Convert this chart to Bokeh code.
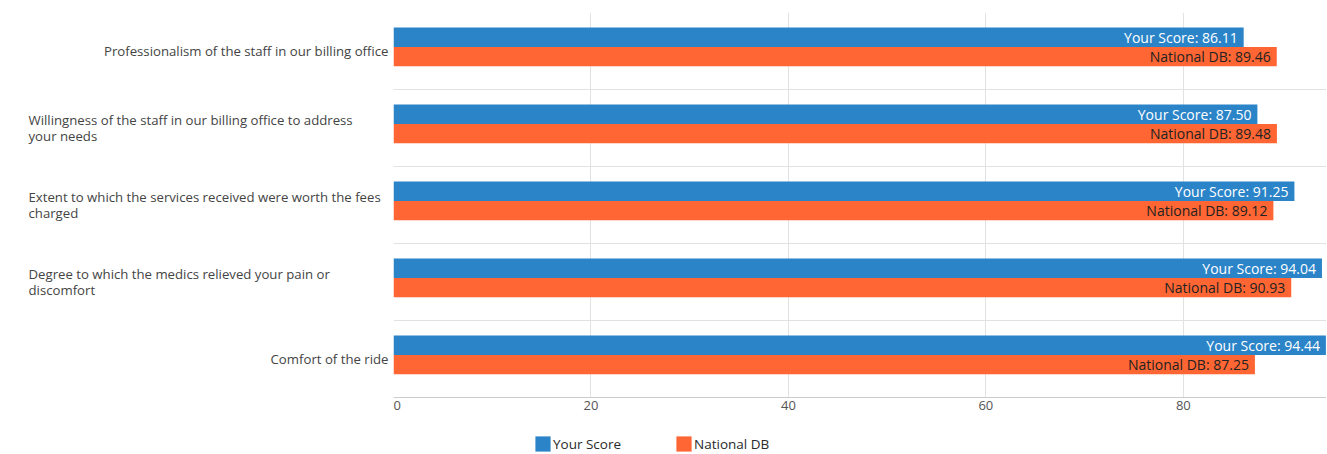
from bokeh.plotting import figure
from bokeh.models import (FactorRange, Range1d, ColumnDataSource, FixedTicker,
                          Grid, Legend, LegendItem)
from bokeh.layouts import row, column
from bokeh.transform import dodge
from bokeh.core.properties import value
from bokeh.embed import file_html
from bokeh.resources import INLINE

# ---------------- data ----------------
categories = [
    "Professionalism of the staff in our billing office",
    "Willingness of the staff in our billing office to address your needs",
    "Extent to which the services received were worth the fees charged",
    "Degree to which the medics relieved your pain or discomfort",
    "Comfort of the ride",
]
category_labels = [
    "Professionalism of the staff in our billing office",
    "Willingness of the staff in our billing office to address\nyour needs",
    "Extent to which the services received were worth the fees\ncharged",
    "Degree to which the medics relieved your pain or\ndiscomfort",
    "Comfort of the ride",
]
your_score = [86.11, 87.50, 91.25, 94.04, 94.44]
national_db = [89.46, 89.48, 89.12, 90.93, 87.25]
series_names = ["Your Score", "National DB"]
x_ticks = [0, 20, 40, 60, 80]

# ---------------- style ----------------
FONT = "Open Sans"
BLUE = "#2b84c8"
ORANGE = "#ff6633"
GRID = "#e2e2e2"
AXIS = "#cccccc"
FH = 385
LEFT_W = 393
MAIN_W = 933
BOTTOM = 26
LEG_H = 30

yr = FactorRange(factors=categories[::-1], range_padding=0, factor_padding=0)

src = ColumnDataSource(dict(
    cat=categories,
    you=your_score,
    nat=national_db,
    you_txt=[f"{series_names[0]}: {v:.2f}" for v in your_score],
    nat_txt=[f"{series_names[1]}: {v:.2f}" for v in national_db],
))

# ---------------- main plot ----------------
p = figure(y_range=yr, x_range=Range1d(0, 94.5),
           frame_width=MAIN_W, frame_height=FH,
           y_axis_location=None, output_backend="svg", toolbar_location=None,
           min_border_top=12, min_border_bottom=BOTTOM, min_border_left=0,
           min_border_right=0, outline_line_color=None)

y_you = dodge("cat", 0.18, range=yr)
y_nat = dodge("cat", -0.073, range=yr)
BH = 0.253

r1 = p.hbar(y=y_you, left=0, right="you", height=BH, source=src,
            fill_color=BLUE, line_color=None)
r2 = p.hbar(y=y_nat, left=0, right="nat", height=BH, source=src,
            fill_color=ORANGE, line_color=None)

p.text(x="you", y=y_you, text="you_txt", source=src, x_offset=-6,
       text_align="right", text_baseline="middle", text_color="white",
       text_font=value(FONT), text_font_size="14px")
p.text(x="nat", y=y_nat, text="nat_txt", source=src, x_offset=-6,
       text_align="right", text_baseline="middle", text_color="#222222",
       text_font=value(FONT), text_font_size="14px")

p.xaxis.ticker = FixedTicker(ticks=x_ticks)
p.xaxis.axis_line_color = AXIS
p.xaxis.major_tick_line_color = None
p.xaxis.minor_tick_line_color = None
p.xaxis.major_tick_out = 0
p.xaxis.major_tick_in = 0
p.xaxis.minor_tick_out = 0
p.xaxis.minor_tick_in = 0
p.xaxis.major_label_standoff = 3
p.xaxis.major_label_text_font = FONT
p.xaxis.major_label_text_font_size = "13px"
p.xaxis.major_label_text_color = "#555555"
p.xgrid.grid_line_color = GRID
for g in p.ygrid:
    g.visible = False

p.add_layout(Grid(dimension=1, ticker=FixedTicker(ticks=list(range(len(categories) + 1))),
                  grid_line_color=GRID))

# ---------------- category labels panel ----------------
lp = figure(y_range=yr, x_range=Range1d(0, LEFT_W), frame_width=LEFT_W, frame_height=FH,
            x_axis_location=None, y_axis_location=None, output_backend="svg",
            toolbar_location=None, min_border=0, min_border_top=12,
            min_border_bottom=BOTTOM, outline_line_color=None)
lp.grid.visible = False

single = [i for i, l in enumerate(category_labels) if "\n" not in l]
multi = [i for i, l in enumerate(category_labels) if "\n" in l]
src_single = ColumnDataSource(dict(cat=[categories[i] for i in single],
                                   label=[category_labels[i] for i in single]))
src_multi = ColumnDataSource(dict(cat=[categories[i] for i in multi],
                                  label=[category_labels[i] for i in multi]))

lp.text(x=388, y="cat", text="label", source=src_single, text_align="right",
        text_baseline="middle", text_color="#444444", text_font=value(FONT),
        text_font_size="13.2px")
lp.text(x=28, y="cat", text="label", source=src_multi, text_align="left",
        text_baseline="middle", text_color="#444444", text_font=value(FONT),
        text_font_size="13.2px", text_line_height=0.92)

# ---------------- legend strip ----------------
# legend swatches need a renderer with one row; that row lies below this
# strip's visible range, so only the legend glyphs are seen.
TOTAL_W = LEFT_W + MAIN_W
lg = figure(x_range=Range1d(0, TOTAL_W), y_range=Range1d(0, LEG_H),
            frame_width=TOTAL_W, frame_height=LEG_H,
            x_axis_location=None, y_axis_location=None, output_backend="svg",
            toolbar_location=None, min_border=0, outline_line_color=None)
lg.grid.visible = False
hidden = ColumnDataSource(dict(y=[-LEG_H], right=[1]))
l1 = lg.hbar(y="y", right="right", left=0, height=1, source=hidden,
             fill_color=BLUE, line_color=None)
l2 = lg.hbar(y="y", right="right", left=0, height=1, source=hidden,
             fill_color=ORANGE, line_color=None)
legend = Legend(items=[LegendItem(label=series_names[0], renderers=[l1]),
                       LegendItem(label=series_names[1], renderers=[l2])],
                orientation="horizontal", location=(LEFT_W + 140, 0),
                glyph_width=19, glyph_height=19, label_standoff=1, spacing=53,
                padding=0, margin=0, border_line_color=None,
                background_fill_alpha=0, label_text_font=FONT,
                label_text_font_size="13.5px", label_text_color="#2a2a2a")
lg.add_layout(legend, "center")

layout = column(row(lp, p), lg)
open("out.html", "w").write(file_html(layout, INLINE))
